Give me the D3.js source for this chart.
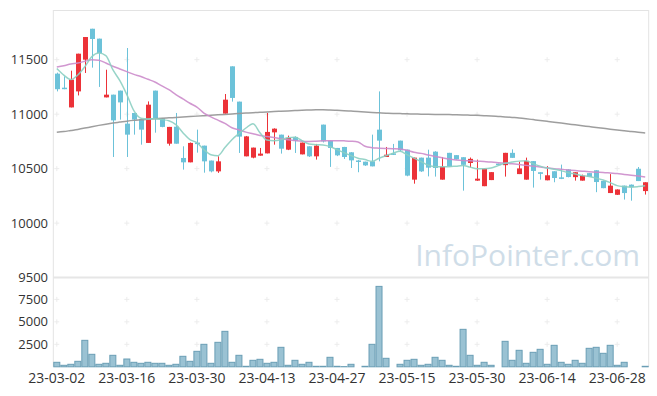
<!DOCTYPE html>
<html><head><meta charset="utf-8">
<script src="https://cdn.jsdelivr.net/npm/d3@7"></script>
<style>html,body{margin:0;padding:0;background:#fff;}svg{display:block;}</style>
</head><body><svg id="chart" width="657" height="396"></svg>
<script>
const dates = ["23-03-02","23-03-03","23-03-06","23-03-07","23-03-08","23-03-09","23-03-10","23-03-13","23-03-14","23-03-15",
"23-03-16","23-03-17","23-03-20","23-03-21","23-03-22","23-03-23","23-03-24","23-03-27","23-03-28","23-03-29",
"23-03-30","23-03-31","23-04-03","23-04-04","23-04-05","23-04-06","23-04-07","23-04-10","23-04-11","23-04-12",
"23-04-13","23-04-14","23-04-17","23-04-18","23-04-19","23-04-20","23-04-21","23-04-24","23-04-25","23-04-26",
"23-04-27","23-04-28","23-05-02","23-05-03","23-05-04","23-05-08","23-05-09","23-05-10","23-05-11","23-05-12",
"23-05-15","23-05-16","23-05-17","23-05-18","23-05-19","23-05-22","23-05-23","23-05-24","23-05-25","23-05-26",
"23-05-30","23-05-31","23-06-01","23-06-02","23-06-05","23-06-07","23-06-08","23-06-09","23-06-12","23-06-13",
"23-06-14","23-06-15","23-06-16","23-06-19","23-06-20","23-06-21","23-06-22","23-06-23","23-06-26","23-06-27",
"23-06-28","23-06-29","23-06-30","23-07-03","23-07-04"];

const open = [11372,11243,11062,11209,11500,11784,11693,11154,11179,11216,
10913,11011,10956,10736,11216,10962,10729,10885,10598,10558,
10739,10711,10574,10475,11005,11439,11115,10613,10601,10619,
10640,10833,10812,10674,10791,10631,10705,10613,10904,10757,
10690,10699,10650,10575,10564,10567,10858,10607,10640,10757,
10674,10399,10601,10601,10656,10399,10645,10624,10605,10552,
10390,10339,10395,10546,10532,10645,10450,10399,10569,10467,
10393,10476,10420,10493,10422,10390,10459,10485,10387,10276,
10260,10344,10353,10499,10294];

const close = [11229,11237,11317,11555,11708,11690,11561,11179,10943,11108,
10812,10950,10858,11087,10965,10883,10883,10729,10558,10736,
10734,10567,10475,10567,11133,11149,10794,10796,10693,10638,
10837,10867,10683,10782,10757,10739,10613,10711,10750,10690,
10622,10607,10576,10568,10530,10521,10757,10628,10628,10668,
10436,10601,10475,10509,10506,10518,10518,10585,10535,10590,
10408,10500,10468,10532,10645,10599,10502,10571,10479,10452,
10439,10414,10406,10423,10467,10436,10424,10377,10321,10344,
10309,10276,10330,10386,10375];

const high = [11381,11347,11399,11555,11708,11784,11693,11408,11179,11216,
11607,11011,10960,11117,11216,10965,10883,11011,10705,10740,
10858,10711,10574,10613,11185,11439,11115,10800,10693,10690,
11011,10870,10812,10803,10797,10739,10705,10727,10904,10757,
10690,10700,10652,10580,10564,10812,11209,10699,10727,10757,
10674,10601,10601,10674,10660,10607,10645,10624,10605,10602,
10583,10500,10468,10546,10645,10677,10564,10601,10570,10467,
10523,10476,10537,10495,10467,10445,10460,10485,10390,10450,
10310,10344,10355,10515,10375];

const low = [11209,11229,11062,11172,11378,11427,11250,11154,10607,10950,
10607,10812,10720,10736,10830,10880,10711,10729,10491,10558,
10647,10463,10466,10461,11005,11115,10644,10613,10595,10619,
10640,10720,10638,10670,10644,10631,10607,10583,10740,10516,
10615,10589,10506,10467,10525,10521,10567,10607,10625,10660,
10430,10362,10470,10429,10427,10399,10515,10583,10298,10511,
10388,10339,10395,10530,10427,10599,10450,10399,10326,10399,
10393,10375,10404,10420,10390,10390,10424,10284,10320,10276,
10258,10216,10206,10386,10262];

const volume = [500,167,278,611,2944,1389,278,389,1278,167,
867,500,389,500,389,389,167,278,1167,611,
1722,2500,389,2722,3944,500,1278,56,722,833,
389,500,2167,167,722,278,500,56,56,1056,
56,20,278,0,56,2500,8944,944,0,278,
722,833,167,278,1056,722,167,56,4167,1278,
167,500,167,0,2833,722,1833,389,1611,1944,
278,2389,500,278,722,389,2056,2167,1500,2389,
167,500,0,0,56];

const ma5 = [11419,11358,11318,11360,11435,11528,11561,11537,11408,11307,
11179,11032,10963,10956,10959,10950,10940,10904,10830,10766,
10739,10674,10628,10619,10693,10766,10821,10873,10913,10830,
10762,10757,10766,10784,10789,10757,10727,10720,10716,10702,
10674,10647,10619,10596,10583,10567,10596,10619,10642,10659,
10628,10596,10564,10532,10518,10518,10518,10523,10528,10514,
10500,10500,10505,10528,10550,10560,10569,10573,10546,10523,
10505,10495,10482,10463,10450,10436,10427,10413,10395,10372,
10344,10335,10330,10335,10344];

const ma20 = [11432,11445,11460,11470,11485,11500,11495,11470,11440,11415,
11390,11365,11345,11320,11295,11260,11225,11180,11140,11100,
11065,11010,10975,10945,10915,10875,10855,10835,10820,10805,
10795,10785,10775,10765,10758,10752,10750,10752,10755,10757,
10757,10755,10752,10745,10705,10692,10688,10685,10683,10680,
10668,10650,10640,10625,10612,10600,10588,10580,10575,10572,
10568,10565,10560,10555,10550,10545,10538,10530,10523,10515,
10508,10500,10494,10488,10482,10477,10472,10468,10465,10460,
10455,10447,10440,10432,10424];

const ma120 = [10833,10840,10850,10860,10872,10885,10897,10908,10918,10927,
10936,10943,10948,10953,10957,10962,10966,10970,10974,10978,
10982,10986,10990,10994,10998,11002,11006,11010,11014,11017,
11020,11024,11027,11030,11033,11036,11038,11040,11040,11038,
11035,11032,11028,11024,11019,11015,11012,11009,11007,11005,
11003,11002,11000,10999,10998,10997,10996,10994,10993,10991,
10989,10986,10983,10979,10975,10970,10965,10958,10950,10942,
10934,10926,10918,10910,10902,10894,10886,10878,10870,10862,
10855,10848,10841,10834,10827];

const priceTicks = [11500, 11000, 10500, 10000, 9500];
const volumeTicks = [7500, 5000, 2500];
const dateTicks = ["23-03-02","23-03-16","23-03-30","23-04-13","23-04-27","23-05-15","23-05-30","23-06-14","23-06-28"];

const svg = d3.select("#chart");
const L = 53.3, R = 648.7, T = 10, SEP = 277.6, B = 366.8;

const x = d3.scaleBand().domain(dates).range([L, R]).padding(0);
const y = d3.scaleLinear().domain([9500, 11956]).range([SEP, T]);
const yv = d3.scaleLinear().domain([0, 9920]).range([B, SEP]);
const cx = d => x(d) + x.bandwidth() / 2;

// frame
const gridColor = "#e3e3e3";
svg.append("line").attr("x1", L).attr("x2", R).attr("y1", T + 0.5).attr("y2", T + 0.5).attr("stroke", gridColor);
svg.append("line").attr("x1", L).attr("x2", L).attr("y1", T).attr("y2", B).attr("stroke", gridColor);
svg.append("line").attr("x1", R).attr("x2", R).attr("y1", T).attr("y2", B).attr("stroke", gridColor);
svg.append("line").attr("x1", L).attr("x2", R).attr("y1", SEP).attr("y2", SEP).attr("stroke", "#e6e6e6").attr("stroke-width", 2);

// grid crosses
const gx = dateTicks.map(cx);
const gys = priceTicks.filter(v => v > 9500).map(y).concat(volumeTicks.map(yv));
const crosses = svg.append("g").attr("stroke", "#ececec").attr("stroke-width", 1);
gx.forEach(px => gys.forEach(py => {
  crosses.append("line").attr("x1", px - 2.5).attr("x2", px + 2.5).attr("y1", py).attr("y2", py);
  crosses.append("line").attr("x1", px).attr("x2", px).attr("y1", py - 2.5).attr("y2", py + 2.5);
}));

// watermark
svg.append("text").attr("x", 640).attr("y", 266).attr("text-anchor", "end")
  .attr("font-family", "Open Sans, sans-serif").attr("font-size", 30)
  .attr("fill", "#cfdde8").text("InfoPointer.com");

// volume bars
svg.append("g").selectAll("rect").data(dates.map((d, i) => ({d, v: volume[i]})).filter(o => o.v > 0))
  .join("rect")
  .attr("x", o => x(o.d) + 0.5).attr("width", x.bandwidth() - 1)
  .attr("y", o => yv(o.v)).attr("height", o => B - yv(o.v))
  .attr("fill", "#9ac2d3").attr("stroke", "#6a9eb5").attr("stroke-width", 1);

// candles
const up = "#ec3238", down = "#6cc2d9";
const cd = dates.map((d, i) => ({d, o: open[i], c: close[i], h: high[i], l: low[i]}));
const cg = svg.append("g");
cg.selectAll("line").data(cd).join("line")
  .attr("x1", o => Math.round(cx(o.d)) + 0.5).attr("x2", o => Math.round(cx(o.d)) + 0.5)
  .attr("y1", o => y(o.h)).attr("y2", o => y(o.l))
  .attr("stroke", o => o.c >= o.o ? up : down).attr("stroke-width", 1);
cg.selectAll("rect").data(cd).join("rect")
  .attr("x", o => Math.round(cx(o.d)) - 2).attr("width", 5)
  .attr("y", o => y(Math.max(o.o, o.c)))
  .attr("height", o => Math.max(1.5, Math.abs(y(o.o) - y(o.c))))
  .attr("fill", o => o.c >= o.o ? up : down);

// moving averages
const line = arr => d3.line().x((v, i) => cx(dates[i])).y(v => y(v)).curve(d3.curveMonotoneX)(arr);
svg.append("path").attr("d", line(ma120)).attr("fill", "none").attr("stroke", "#999").attr("stroke-width", 1.5).attr("opacity", 0.95);
svg.append("path").attr("d", line(ma20)).attr("fill", "none").attr("stroke", "#cc8ccb").attr("stroke-width", 1.5).attr("opacity", 0.9);
svg.append("path").attr("d", line(ma5)).attr("fill", "none").attr("stroke", "#8ccfc2").attr("stroke-width", 1.5).attr("opacity", 0.9);

// axis labels
const lab = svg.append("g").attr("font-family", "Open Sans, sans-serif").attr("fill", "#333");
priceTicks.forEach(v => lab.append("text").attr("x", 48).attr("y", y(v)).attr("dy", "0.35em")
  .attr("text-anchor", "end").attr("font-size", 13).text(v));
volumeTicks.forEach(v => lab.append("text").attr("x", 48).attr("y", yv(v)).attr("dy", "0.35em")
  .attr("text-anchor", "end").attr("font-size", 13).text(v));
dateTicks.forEach(d => lab.append("text").attr("x", cx(d)).attr("y", 382.5)
  .attr("text-anchor", "middle").attr("font-size", 14).text(d));
</script></body></html>
